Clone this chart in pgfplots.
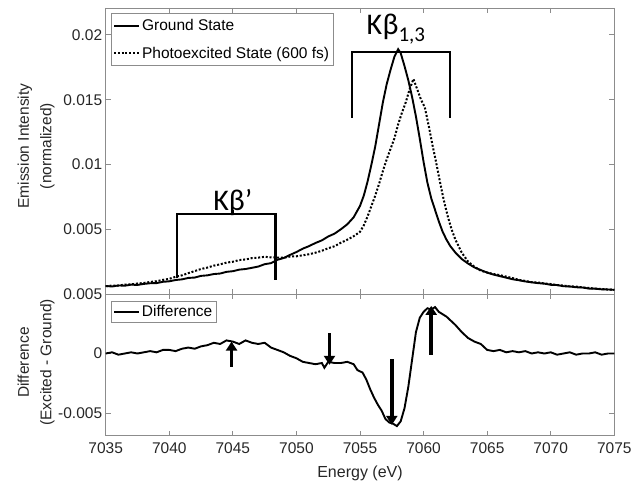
\documentclass[border=0pt]{standalone}
\usepackage{fontspec}
\setmainfont{Liberation Sans}
\newfontfamily\calibri{Carlito}
\usepackage{pgfplots}
\pgfplotsset{compat=1.18}
\usetikzlibrary{arrows.meta}
\definecolor{axgray}{RGB}{140,140,140}
\definecolor{txt}{RGB}{38,38,38}

\pgfplotsset{
  mystyle/.style={
    scale only axis,
    width=508.6pt,
    xmin=7035, xmax=7075,
    xtick={7035,7040,...,7075},
    scaled x ticks=false, scaled y ticks=false,
    axis line style={axgray, line width=0.9pt},
    every tick/.style={axgray, line width=0.9pt},
    major tick length=5pt,
    tick align=inside,
    ticklabel style={font=\fontsize{15.5}{18}\selectfont, text=txt},
    xticklabel style={yshift=-4pt},
    legend cell align=left,
    legend image code/.code={\draw[#1] (0pt,0pt) -- (25pt,0pt);},
    legend style={
      draw=axgray, line width=0.8pt, fill=white,
      font=\fontsize{15.5}{18}\selectfont, text=black,
      inner xsep=2pt, inner ysep=4pt,
      nodes={inner sep=2pt, anchor=west},
      row sep=11pt,
      at={(0,1)}, anchor=north west,
    },
  }
}

\begin{document}
\begin{tikzpicture}
\useasboundingbox (0,0) rectangle (633pt,483pt);

% ---------------- top panel ----------------
\begin{axis}[mystyle,
  at={(105.7pt,189pt)}, anchor=south west,
  height=286pt,
  ymin=0, ymax=0.02208,
  ytick={0.005,0.01,0.015,0.02},
  yticklabels={0.005,0.01,0.015,0.02},
  xticklabels={},
  legend style={xshift=5pt, yshift=-5pt},
]
\addplot[black, line width=1.9pt] coordinates {
(7035.0,0.00062)(7035.5,0.00058)(7036.0,0.00066)(7036.5,0.00064)(7037.0,0.00072)
(7037.5,0.00070)(7038.0,0.00078)(7038.5,0.00083)(7039.0,0.00084)(7039.5,0.00094)
(7040.0,0.00098)(7040.5,0.00108)(7041.0,0.00113)(7041.5,0.00124)(7042.0,0.00127)
(7042.5,0.00140)(7043.0,0.00144)(7043.5,0.00154)(7044.0,0.00158)(7044.5,0.00171)
(7045.0,0.00176)(7045.5,0.00188)(7046.0,0.00193)(7046.5,0.00202)(7047.0,0.00212)
(7047.5,0.00230)(7048.0,0.00238)(7048.5,0.00264)(7049.0,0.00278)(7049.5,0.00302)
(7050.0,0.00324)(7050.5,0.00350)(7051.0,0.00370)(7051.5,0.00394)(7052.0,0.00414)
(7052.5,0.00444)(7053.0,0.00466)(7053.5,0.00500)(7054.0,0.00538)(7054.5,0.00592)
(7055.0,0.00680)(7055.3,0.00760)(7055.6,0.00870)(7055.9,0.01000)(7056.2,0.01140)
(7056.5,0.01310)(7056.8,0.01480)(7057.1,0.01620)(7057.4,0.01730)(7057.7,0.01830)
(7058.0,0.01890)(7058.2,0.01860)(7058.5,0.01760)(7058.8,0.01650)(7059.1,0.01520)
(7059.4,0.01370)(7059.7,0.01200)(7060.0,0.01020)(7060.3,0.00860)(7060.6,0.00740)
(7060.9,0.00650)(7061.2,0.00560)(7061.5,0.00480)(7061.8,0.00420)(7062.1,0.00370)
(7062.5,0.00320)(7063.0,0.00270)(7063.5,0.00235)(7064.0,0.00205)(7064.5,0.00185)
(7065.0,0.00165)(7065.5,0.00150)(7066.0,0.00138)(7066.5,0.00126)(7067.0,0.00114)
(7067.5,0.00106)(7068.0,0.00097)(7068.5,0.00090)(7069.0,0.00084)(7069.5,0.00080)
(7070.0,0.00071)(7070.5,0.00069)(7071.0,0.00060)(7071.5,0.00058)(7072.0,0.00052)
(7072.5,0.00050)(7073.0,0.00042)(7073.5,0.00041)(7074.0,0.00036)(7074.5,0.00035)
(7075.0,0.00032)
};
\addlegendentry{Ground State}
\addplot[black, line width=2pt, dash pattern=on 2pt off 1.8pt] coordinates {
(7035.0,0.00060)(7035.5,0.00065)(7036.0,0.00065)(7036.5,0.00073)(7037.0,0.00074)
(7037.5,0.00081)(7038.0,0.00085)(7038.5,0.00093)(7039.0,0.00099)(7039.5,0.00109)
(7040.0,0.00117)(7040.5,0.00133)(7041.0,0.00144)(7041.5,0.00161)(7042.0,0.00177)
(7042.5,0.00193)(7043.0,0.00204)(7043.5,0.00219)(7044.0,0.00229)(7044.5,0.00242)
(7045.0,0.00249)(7045.5,0.00262)(7046.0,0.00267)(7046.5,0.00277)(7047.0,0.00281)
(7047.5,0.00287)(7048.0,0.00283)(7048.5,0.00281)(7049.0,0.00280)(7049.5,0.00289)
(7050.0,0.00291)(7050.5,0.00299)(7051.0,0.00307)(7051.5,0.00319)(7052.0,0.00334)
(7052.5,0.00353)(7053.0,0.00369)(7053.5,0.00396)(7054.0,0.00419)(7054.5,0.00446)
(7055.0,0.00480)(7055.3,0.00530)(7055.6,0.00600)(7055.9,0.00680)(7056.2,0.00760)
(7056.5,0.00850)(7056.8,0.00950)(7057.1,0.01040)(7057.4,0.01120)(7057.7,0.01200)
(7058.0,0.01310)(7058.3,0.01400)(7058.6,0.01480)(7058.9,0.01580)(7059.2,0.01660)
(7059.5,0.01580)(7059.8,0.01500)(7060.1,0.01440)(7060.4,0.01300)(7060.7,0.01150)
(7061.0,0.01010)(7061.3,0.00860)(7061.6,0.00720)(7061.9,0.00600)(7062.2,0.00500)
(7062.5,0.00420)(7063.0,0.00320)(7063.5,0.00250)(7064.0,0.00210)(7064.5,0.00180)
(7065.0,0.00166)(7065.5,0.00154)(7066.0,0.00146)(7066.5,0.00134)(7067.0,0.00123)
(7067.5,0.00109)(7068.0,0.00101)(7068.5,0.00091)(7069.0,0.00089)(7069.5,0.00081)
(7070.0,0.00077)(7070.5,0.00069)(7071.0,0.00065)(7071.5,0.00059)(7072.0,0.00057)
(7072.5,0.00051)(7073.0,0.00047)(7073.5,0.00041)(7074.0,0.00039)(7074.5,0.00034)
(7075.0,0.00033)
};
\addlegendentry{Photoexcited State (600 fs)}

% brackets
\draw[black, line width=2.2pt]
  (axis cs:7054.34,0.01361) -- (axis cs:7054.34,0.01866) -- (axis cs:7062.08,0.01866) -- (axis cs:7062.08,0.01361);
\draw[black, line width=2.2pt]
  (axis cs:7040.63,0.00124) -- (axis cs:7040.63,0.00615) -- (axis cs:7048.36,0.00615) -- (axis cs:7048.36,0.00108);
\draw[black, line width=2.2pt] (axis cs:7045.0,0.00615) -- (axis cs:7045.0,0.00645);
\node[anchor=base west, inner sep=0pt, font=\calibri\fontsize{30}{30}\selectfont]
  at (axis cs:7055.5,0.0200) {K\kern0.5pt β\raisebox{-7pt}{\fontsize{21}{21}\selectfont 1,3}};
\node[anchor=base, inner sep=0pt, font=\calibri\fontsize{30}{30}\selectfont]
  at (axis cs:7045.0,0.00645) {Kβ’};
\end{axis}

% ---------------- bottom panel ----------------
\begin{axis}[mystyle,
  at={(105.7pt,47.4pt)}, anchor=south west,
  height=141.6pt,
  ymin=-0.0069, ymax=0.005,
  ytick={-0.005,0,0.005},
  yticklabels={-0.005,0,0.005},
  xticklabels={7035,7040,7045,7050,7055,7060,7065,7070,7075},
  legend style={xshift=5pt, yshift=-6.5pt, inner ysep=2.5pt},
]
\addplot[black, line width=1.9pt] coordinates {
(7035.0,0.0000)(7035.5,0.0001)(7036.0,-0.0001)(7036.5,0.0000)(7037.0,0.0001)
(7037.5,0.0000)(7038.0,0.0001)(7038.5,0.0002)(7039.0,0.0001)(7039.5,0.0003)
(7040.0,0.0003)(7040.5,0.0002)(7041.0,0.0004)(7041.5,0.0005)(7042.0,0.0004)
(7042.5,0.0006)(7043.0,0.0007)(7043.5,0.0009)(7044.0,0.0008)(7044.5,0.0011)
(7045.0,0.0010)(7045.5,0.0008)(7046.0,0.0011)(7046.5,0.0009)(7047.0,0.0008)
(7047.5,0.0009)(7048.0,0.0005)(7048.5,0.0003)(7049.0,0.0001)(7049.5,-0.0002)
(7050.0,-0.0004)(7050.5,-0.0007)(7051.0,-0.0008)(7051.5,-0.0009)(7052.0,-0.0008)
(7052.2,-0.0012)(7052.5,-0.0007)(7053.0,-0.0008)(7053.5,-0.0008)(7054.0,-0.0007)
(7054.5,-0.0009)(7054.8,-0.0014)(7055.2,-0.0016)(7055.5,-0.0022)(7055.8,-0.0030)
(7056.1,-0.0037)(7056.4,-0.0043)(7056.7,-0.0048)(7057.0,-0.0055)(7057.3,-0.0058)
(7057.6,-0.0059)(7057.9,-0.0061)(7058.2,-0.0057)(7058.5,-0.0046)(7058.8,-0.0028)
(7059.1,-0.0005)(7059.4,0.0018)(7059.7,0.0030)(7060.0,0.0035)(7060.3,0.0038)
(7060.6,0.0037)(7060.9,0.0039)(7061.2,0.0035)(7061.5,0.0033)(7061.8,0.0031)
(7062.1,0.0028)(7062.5,0.0024)(7063.0,0.0018)(7063.5,0.0013)(7064.0,0.0010)
(7064.5,0.0008)(7065.0,0.0003)(7065.5,0.0002)(7066.0,0.0003)(7066.5,0.0001)
(7067.0,0.0002)(7067.5,0.0001)(7068.0,0.0002)(7068.5,0.0000)(7069.0,0.0001)
(7069.5,0.0000)(7070.0,0.0001)(7070.5,-0.0001)(7071.0,0.0000)(7071.5,0.0001)
(7072.0,-0.0001)(7072.5,0.0000)(7073.0,0.0000)(7073.5,0.0001)(7074.0,-0.0001)
(7074.5,0.0000)(7075.0,0.0000)
};
\addlegendentry{Difference}
% arrows
\draw[black, line width=3.8pt, -{Triangle[width=11pt,length=9pt]}]
  (axis cs:7044.9,-0.0011) -- (axis cs:7044.9,0.0010);
\draw[black, line width=3.8pt, -{Triangle[width=11pt,length=9pt]}]
  (axis cs:7052.6,0.0017) -- (axis cs:7052.6,-0.00095);
\draw[black, line width=3.8pt, -{Triangle[width=11pt,length=9pt]}]
  (axis cs:7057.5,-0.00048) -- (axis cs:7057.5,-0.0060);
\draw[black, line width=3.8pt, -{Triangle[width=11pt,length=9pt]}]
  (axis cs:7060.6,-0.0001) -- (axis cs:7060.6,0.0040);
\end{axis}

% axis labels
\node[rotate=90, align=center, text=txt, font=\fontsize{15.5}{22.5}\selectfont]
  at (36pt,337pt) {Emission Intensity\\(normalized)};
\node[rotate=90, align=center, text=txt, font=\fontsize{15.5}{22.5}\selectfont]
  at (36pt,120.5pt) {Difference\\(Excited - Ground)};
\node[text=txt, font=\fontsize{16}{19}\selectfont] at (360pt,10pt) {Energy (eV)};
\end{tikzpicture}
\end{document}
